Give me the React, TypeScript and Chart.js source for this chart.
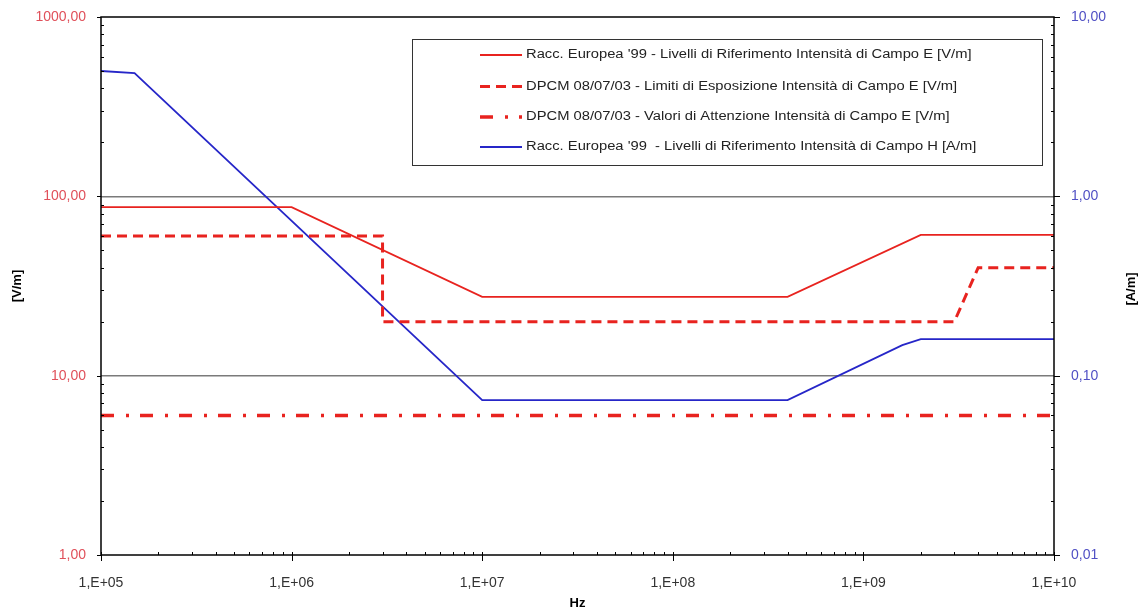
import React, { useEffect, useRef } from "react";
import { Chart, registerables } from "chart.js";

Chart.register(...registerables);

// ---- tick labels ----
const xTickValues = [1e5, 1e6, 1e7, 1e8, 1e9, 1e10];
const xTickLabels = ["1,E+05", "1,E+06", "1,E+07", "1,E+08", "1,E+09", "1,E+10"];
const leftTickValues = [1, 10, 100, 1000];
const leftTickLabels = ["1,00", "10,00", "100,00", "1000,00"];
const rightTickValues = [0.01, 0.1, 1, 10];
const rightTickLabels = ["0,01", "0,10", "1,00", "10,00"];

// ---- series (frequency in Hz) ----
const eRefFreq = [1e5, 1e6, 1e7, 4e8, 2e9, 1e10];
const eRefValues = [87, 87, 27.5, 27.5, 61, 61];
const eLimFreq = [1e5, 3e6, 3e6, 3e9, 4e9, 1e10];
const eLimValues = [60, 60, 20, 20, 40, 40];
const eAttFreq = [1e5, 1e10];
const eAttValues = [6, 6];
const hRefFreq = [1e5, 1.5e5, 1e7, 4e8, 1.6e9, 2e9, 1e10];
const hRefValues = [5, 4.87, 0.073, 0.073, 0.148, 0.16, 0.16];

const seriesLabels = [
  "Racc. Europea '99 - Livelli di Riferimento Intensità di Campo E [V/m]",
  "DPCM 08/07/03 - Limiti di Esposizione Intensità di Campo E [V/m]",
  "DPCM 08/07/03 - Valori di Attenzione Intensità di Campo E [V/m]",
  "Racc. Europea '99  - Livelli di Riferimento Intensità di Campo H [A/m]",
];

const FONT = "'Liberation Sans', Arial, sans-serif";
const RED = "#e8231f";
const BLUE = "#2626c8";

const toPts = (xs: number[], ys: number[]) => xs.map((x, i) => ({ x, y: ys[i] }));

const decoPlugin = {
  id: "deco",
  afterDraw(chart: any) {
    const { ctx, chartArea: a, scales } = chart;
    const xs = scales.x;
    const yl = scales.y;
    ctx.save();
    // frame
    ctx.strokeStyle = "#000";
    ctx.lineWidth = 1.5;
    ctx.strokeRect(a.left, a.top, a.right - a.left, a.bottom - a.top);
    ctx.lineWidth = 1;
    ctx.beginPath();
    // x ticks
    for (let k = 5; k <= 10; k++) {
      const px = Math.round(xs.getPixelForValue(Math.pow(10, k))) + 0.5;
      ctx.moveTo(px, a.bottom - 3);
      ctx.lineTo(px, a.bottom + 6);
      if (k < 10) {
        for (let m = 2; m <= 9; m++) {
          const p = Math.round(xs.getPixelForValue(m * Math.pow(10, k))) + 0.5;
          ctx.moveTo(p, a.bottom);
          ctx.lineTo(p, a.bottom - 3);
        }
      }
    }
    // y ticks (left and right share the same decades)
    for (let k = 0; k <= 3; k++) {
      const py = Math.round(yl.getPixelForValue(Math.pow(10, k))) + 0.5;
      ctx.moveTo(a.left - 4, py);
      ctx.lineTo(a.left, py);
      ctx.moveTo(a.right, py);
      ctx.lineTo(a.right + 6, py);
      if (k < 3) {
        for (let m = 2; m <= 9; m++) {
          const p = Math.round(yl.getPixelForValue(m * Math.pow(10, k))) + 0.5;
          ctx.moveTo(a.left, p);
          ctx.lineTo(a.left + 3, p);
          ctx.moveTo(a.right, p);
          ctx.lineTo(a.right - 3, p);
        }
      }
    }
    ctx.stroke();

    // right axis title (reads bottom to top)
    ctx.save();
    ctx.translate(1131, (a.top + a.bottom) / 2 + 3);
    ctx.rotate(-Math.PI / 2);
    ctx.font = `bold 13px ${FONT}`;
    ctx.fillStyle = "#000";
    ctx.textAlign = "center";
    ctx.textBaseline = "middle";
    ctx.fillText("[A/m]", 0, 0);
    ctx.restore();

    // legend
    const bx = 412, by = 39, bw = 630, bh = 126;
    ctx.fillStyle = "#fff";
    ctx.fillRect(bx, by, bw, bh);
    ctx.strokeStyle = "#333";
    ctx.lineWidth = 1;
    ctx.strokeRect(bx + 0.5, by + 0.5, bw, bh);
    const rows = [55, 86.5, 117, 147];
    chart.data.datasets.forEach((ds: any, i: number) => {
      const y = rows[i];
      ctx.save();
      ctx.strokeStyle = ds.borderColor;
      ctx.lineWidth = ds.borderWidth;
      ctx.setLineDash(ds.borderDash || []);
      ctx.beginPath();
      ctx.moveTo(480, y);
      ctx.lineTo(522, y);
      ctx.stroke();
      ctx.restore();
      ctx.save();
      ctx.translate(526, y);
      ctx.scale(1.18, 1);
      ctx.fillStyle = "#222";
      ctx.font = `12.5px ${FONT}`;
      ctx.textAlign = "left";
      ctx.textBaseline = "middle";
      ctx.fillText(ds.label, 0, 0);
      ctx.restore();
    });
    ctx.restore();
  },
};

const noVPad = (s: any) => {
  s.paddingTop = 0;
  s.paddingBottom = 0;
};

export default function App() {
  const ref = useRef<HTMLCanvasElement | null>(null);
  useEffect(() => {
    if (!ref.current) return;
    const chart = new Chart(ref.current, {
      type: "line",
      data: {
        datasets: [
          {
            label: seriesLabels[0],
            data: toPts(eRefFreq, eRefValues),
            borderColor: RED,
            borderWidth: 1.8,
            pointRadius: 0,
            yAxisID: "y",
          },
          {
            label: seriesLabels[1],
            data: toPts(eLimFreq, eLimValues),
            borderColor: RED,
            borderWidth: 3,
            borderDash: [10, 6],
            pointRadius: 0,
            yAxisID: "y",
          },
          {
            label: seriesLabels[2],
            data: toPts(eAttFreq, eAttValues),
            borderColor: RED,
            borderWidth: 3.5,
            borderDash: [13, 12, 3, 11],
            pointRadius: 0,
            yAxisID: "y",
          },
          {
            label: seriesLabels[3],
            data: toPts(hRefFreq, hRefValues),
            borderColor: BLUE,
            borderWidth: 1.8,
            pointRadius: 0,
            yAxisID: "y2",
          },
        ],
      },
      options: {
        responsive: false,
        animation: false,
        devicePixelRatio: 1,
        layout: { padding: { top: 17, left: 0, right: 0, bottom: 0 } },
        plugins: { legend: { display: false }, tooltip: { enabled: false } },
        scales: {
          x: {
            type: "logarithmic",
            min: 1e5,
            max: 1e10,
            position: "bottom",
            afterBuildTicks: (s: any) => {
              s.ticks = xTickValues.map((v) => ({ value: v }));
            },
            afterFit: (s: any) => {
              s.height = 57;
            },
            ticks: {
              autoSkip: false,
              maxRotation: 0,
              padding: 20,
              color: "#333",
              font: { family: FONT, size: 14 },
              callback: (_v: any, i: number) => xTickLabels[i],
            },
            grid: { display: false, drawTicks: false },
            border: { display: false },
            title: {
              display: true,
              text: "Hz",
              color: "#000",
              font: { family: FONT, size: 13, weight: "bold" },
              padding: { top: 0, bottom: 1 },
            },
          },
          y: {
            type: "logarithmic",
            min: 1,
            max: 1000,
            position: "left",
            afterBuildTicks: (s: any) => {
              s.ticks = leftTickValues.map((v) => ({ value: v }));
            },
            afterFit: (s: any) => {
              s.width = 101;
              noVPad(s);
            },
            ticks: {
              autoSkip: false,
              padding: 15,
              color: "#e0505a",
              font: { family: FONT, size: 14 },
              callback: (_v: any, i: number) => leftTickLabels[i],
            },
            grid: {
              drawTicks: false,
              lineWidth: 1.5,
              color: (c: any) =>
                c.tick && (c.tick.value === 10 || c.tick.value === 100) ? "#7a7a7a" : "rgba(0,0,0,0)",
            },
            border: { display: false },
            title: {
              display: true,
              text: "[V/m]",
              color: "#000",
              font: { family: FONT, size: 13, weight: "bold" },
              padding: { top: 10, bottom: 0 },
            },
          },
          y2: {
            type: "logarithmic",
            min: 0.01,
            max: 10,
            position: "right",
            afterBuildTicks: (s: any) => {
              s.ticks = rightTickValues.map((v) => ({ value: v }));
            },
            afterFit: (s: any) => {
              s.width = 92;
              noVPad(s);
            },
            ticks: {
              autoSkip: false,
              padding: 17,
              color: "#5050c4",
              font: { family: FONT, size: 14 },
              callback: (_v: any, i: number) => rightTickLabels[i],
            },
            grid: { display: false, drawTicks: false },
            border: { display: false },
          },
        },
      },
      plugins: [decoPlugin],
    } as any);
    return () => chart.destroy();
  }, []);
  return (
    <div style={{ position: "absolute", left: 0, top: 0, width: 1146, height: 612, background: "#fff" }}>
      <canvas ref={ref} width={1146} height={612} style={{ display: "block" }} />
    </div>
  );
}
